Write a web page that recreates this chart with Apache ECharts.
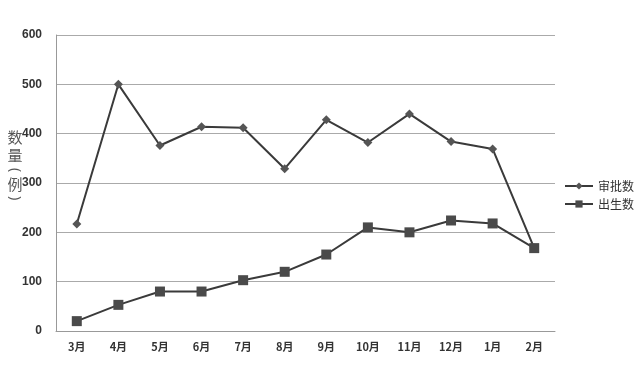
<!DOCTYPE html>
<html><head><meta charset="utf-8">
<script src="https://cdn.jsdelivr.net/npm/echarts@6/dist/echarts.min.js"></script>
<style>html,body{margin:0;padding:0;background:#fff}#c{width:640px;height:390px}</style>
</head><body><div id="c"></div>
<script>
const categories = ['3月','4月','5月','6月','7月','8月','9月','10月','11月','12月','1月','2月'];
const approved = [217, 500, 376, 414, 412, 329, 428, 382, 440, 384, 369, 168];
const births = [20, 53, 80, 80, 103, 120, 155, 210, 200, 224, 218, 168];
const yTicks = [0, 100, 200, 300, 400, 500, 600];
const seriesNames = ['审批数', '出生数'];
const yNameChars = ['数', '量', '(', '例', ')'];

const chart = echarts.init(document.getElementById('c'));
const lineColor = '#3a3a3a';
const nameYs = [137, 155, 170, 184, 198];
const graphics = yNameChars.map((ch, i) => {
  const isParen = ch === '(' || ch === ')';
  return {
    type: 'text', x: 15, y: nameYs[i],
    rotation: isParen ? -Math.PI / 2 : 0,
    style: { text: ch, fill: '#555', font: (isParen ? '14px "Noto Sans"' : '15px "Noto Sans CJK SC"'),
             align: 'center', verticalAlign: 'middle' }
  };
});
chart.setOption({
  backgroundColor: '#fff',
  animation: false,
  textStyle: { fontFamily: 'Noto Sans CJK SC' },
  grid: { left: 56, right: 85, top: 35, bottom: 59 },
  legend: {
    orient: 'vertical', left: 559, top: 175, itemGap: 6,
    itemWidth: 28, itemHeight: 9,
    textStyle: { color: '#333', fontSize: 12, fontFamily: 'Noto Sans CJK SC' },
    data: seriesNames
  },
  xAxis: {
    type: 'category', data: categories, boundaryGap: true,
    axisLine: { lineStyle: { color: '#999', width: 1 } },
    axisTick: { show: false },
    axisLabel: { color: '#333', fontSize: 11, margin: 10, fontWeight: 'bold', fontFamily: 'Noto Sans CJK SC' }
  },
  yAxis: {
    type: 'value', min: yTicks[0], max: yTicks[yTicks.length-1], interval: 100,
    axisLine: { show: true, lineStyle: { color: '#999', width: 1 } },
    axisTick: { show: false },
    splitLine: { lineStyle: { color: '#aaa', width: 1 } },
    axisLabel: { color: '#333', fontSize: 12, margin: 14, fontWeight: 'bold', fontFamily: 'Liberation Sans' }
  },
  graphic: graphics,
  series: [{
    name: seriesNames[0], type: 'line', data: approved,
    symbol: 'diamond', symbolSize: 9,
    lineStyle: { color: lineColor, width: 2 },
    itemStyle: { color: '#555' }
  }, {
    name: seriesNames[1], type: 'line', data: births,
    symbol: 'rect', symbolSize: 10,
    lineStyle: { color: lineColor, width: 2 },
    itemStyle: { color: '#4a4a4a' }
  }]
});
</script></body></html>
